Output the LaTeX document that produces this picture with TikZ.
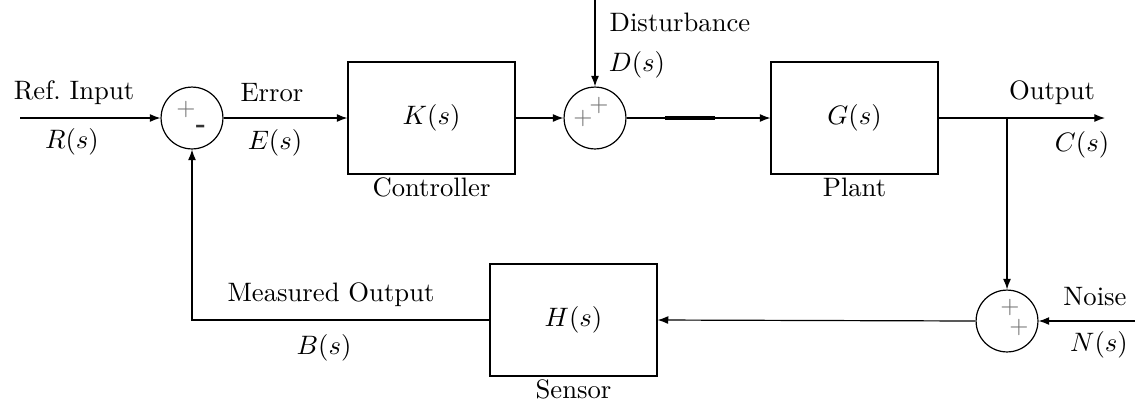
\documentclass[tikz,border=0pt]{standalone}
\usepackage{amsmath,amssymb}
\usepackage{tikz}
\usetikzlibrary{arrows.meta,positioning}

\begin{document}
\begin{tikzpicture}[x=0.375pt,y=-0.375pt,line width=0.45pt,>={Latex[length=4pt,width=3pt]},
  block/.style={rectangle,draw,minimum width=62.6pt,minimum height=42pt,inner sep=0pt},
  sum/.style={circle,draw,minimum size=23.2pt,inner sep=0pt},
  sign/.style={text=black!55,font=\small,inner sep=0pt},
  lbl/.style={inner sep=0pt}]

  \useasboundingbox (0,0) rectangle (1135,405);

  % Blocks
  \node[block] (K) at (431.5,118) {$K(s)$};
  \node[block] (G) at (854.5,118) {$G(s)$};
  \node[block] (H) at (573.5,320) {$H(s)$};

  % Summing junctions
  \node[sum] (S1) at (192,118) {};
  \node[sum] (S2) at (595,118) {};
  \node[sum] (S3) at (1007,321) {};

  % Signs
  \node[sign] at ([shift={(-6,-9)}]S1) {$+$};
  \node[sign,text=black!80,font=\normalsize\bfseries] at ([shift={(9,11)}]S1) {-};
  \node[sign] at ([shift={(-12,0)}]S2) {$+$};
  \node[sign] at ([shift={(4,-13)}]S2) {$+$};
  \node[sign] at ([shift={(3,-14)}]S3) {$+$};
  \node[sign] at ([shift={(12,6)}]S3) {$+$};

  % Free ends
  \coordinate (in) at (20,118);
  \coordinate (out) at (1105,118);
  \coordinate (dist) at (595,0);
  \coordinate (noise) at (1135,321);
  \coordinate (tap) at (1007,118);

  % Forward path
  \draw[->] (in) -- (S1.west);
  \draw[->] (S1.east) -- (K.west);
  \draw[->] (K.east) -- (S2.west);
  \draw[->] (S2.east) -- (G.west);
  \draw[line width=1.2pt] (665,118) -- (715,118);
  \draw[->] (G.east) -- (out);
  \draw[->] (dist) -- (S2.north);

  % Feedback path
  \draw[->] (tap) -- (S3.north);
  \draw[->] (noise) -- (S3.east);
  \draw[->] (S3.west) -- (H.east);
  \draw[->] (H.west) -| (S1.south);

  % Labels
  \node[lbl] at (74,93) {Ref.\ Input};
  \node[lbl] at (72,142) {$R(s)$};
  \node[lbl] at (272,93) {Error};
  \node[lbl] at (275,143) {$E(s)$};
  \node[lbl] at (680,22) {Disturbance};
  \node[lbl] at (637,65) {$D(s)$};
  \node[lbl] at (1052,93) {Output};
  \node[lbl] at (1082,145) {$C(s)$};
  \node[lbl] at (1095,297) {Noise};
  \node[lbl] at (1099,345) {$N(s)$};
  \node[lbl] at (331,295) {Measured Output};
  \node[lbl] at (324,348) {$B(s)$};
  \node[lbl,below=1pt of K] {Controller};
  \node[lbl,below=1pt of G] {Plant};
  \node[lbl,below=1pt of H] {Sensor};

\end{tikzpicture}
\end{document}
